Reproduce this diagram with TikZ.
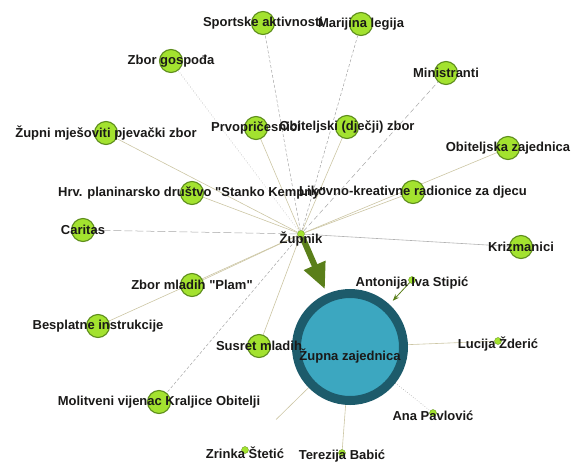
\documentclass[tikz,border=0pt]{standalone}
\usepackage{fontspec}
\setmainfont{Liberation Sans}
\usepackage{xcolor}
\definecolor{limeg}{HTML}{A3E22F}
\definecolor{limerub}{HTML}{5E8E1C}
\definecolor{zupolive}{HTML}{5A7F1A}
\definecolor{ringc}{HTML}{1D5B6B}
\definecolor{tealc}{HTML}{3CA7C0}
\definecolor{tanc}{HTML}{CCC6A4}
\definecolor{ink}{HTML}{1A1918}
\usetikzlibrary{arrows.meta,backgrounds}

\begin{document}
\begin{tikzpicture}[
		x=1pt,
		y=-1pt,
		>=Stealth,
		grupa/.style={circle, draw=limerub, fill=limeg, line width=1.1pt, minimum size=23pt, inner sep=0pt},
		osoba/.style={circle, draw=limerub, fill=limeg, line width=0.3pt, minimum size=7pt, inner sep=0pt},
		natpis/.style={font=\bfseries\fontsize{13}{13}\selectfont, text=ink, inner sep=0pt},
		veza/.style={draw=tanc, line width=0.6pt},
		crtkano/.style={draw=black!35, dash pattern=on 3pt off 2pt, line width=0.5pt},
		tockasto/.style={draw=black!45, dotted, line width=0.5pt}
	]
		\useasboundingbox (0,0) rectangle (573,461);

		% group nodes: name / x / y / text
		\def\grupe{sport/263/23/{Sportske aktivnosti},
			marija/361/24/{Marijina legija},
			gospoda/171/61/{Zbor gospođa},
			minist/446/73/{Ministranti},
			pjev/106/133/{Župni mješoviti pjevački zbor},
			prvo/256/128/{Prvopričesnici},
			obzbor/347/127/{Obiteljski (dječji) zbor},
			obzaj/508/148/{Obiteljska zajednica},
			hpd/192/193/{Hrv. planinarsko društvo \textquotedbl Stanko Kempny\textquotedbl},
			likovno/413/192/{Likovno-kreativne radionice za djecu},
			caritas/83/230/{Caritas},
			krizm/521/247/{Krizmanici},
			plam/192/285/{Zbor mladih \textquotedbl Plam\textquotedbl},
			instr/98/326/{Besplatne instrukcije},
			susret/259/346/{Susret mladih},
			molit/159/402/{Molitveni vijenac Kraljice Obitelji}}

		% person nodes
		\def\osobe{antonija/412/280/{Antonija Iva Stipić},
			lucija/498/341/{Lucija Žderić},
			ana/433/413/{Ana Pavlović},
			terezija/342/453/{Terezija Babić},
			zrinka/245/450/{Zrinka Štetić}}

		\node[circle, fill=tealc, draw=ringc, line width=9pt, minimum size=107pt, inner sep=0pt] (zupna) at (350,347) {};
		\node[osoba] (zupnik) at (301,234) {};
		\foreach \n/\x/\y/\t in \grupe {\node[grupa] (\n) at (\x,\y) {};}
		\foreach \n/\x/\y/\t in \osobe {\node[osoba] (\n) at (\x,\y) {};}

		% ties from the priest
		\begin{scope}[on background layer]
			\draw[crtkano] (zupnik) -- (sport);
			\draw[crtkano] (zupnik) -- (marija);
			\draw[tockasto] (zupnik) -- (gospoda);
			\draw[crtkano, dash pattern=on 5pt off 3pt] (zupnik) -- (minist);
			\draw[veza] (zupnik) -- (pjev);
			\draw[veza] (zupnik) -- (prvo);
			\draw[veza] (zupnik) -- (obzbor);
			\draw[veza] (zupnik) -- (obzaj);
			\draw[veza] (zupnik) -- (hpd);
			\draw[veza] (zupnik) -- (likovno);
			\draw[crtkano, dash pattern=on 8pt off 3pt] (zupnik) -- (caritas);
			\draw[veza, draw=black!30] (zupnik) -- (krizm);
			\draw[veza] (zupnik) -- (plam);
			\draw[veza] (zupnik) -- (instr);
			\draw[veza] (zupnik) -- (susret);
			\draw[crtkano] (zupnik) -- (molit);

			% ties of the parishioners
			\draw[veza] (zupna) -- (lucija);
			\draw[tockasto] (zupna) -- (ana);
			\draw[veza] (zupna) -- (terezija);
			\draw[veza, shorten >=40pt] (zupna) -- (zrinka);
		\end{scope}

		\draw[zupolive, line width=6pt, -{Triangle[length=26pt,width=22pt]}, shorten >=5pt] (zupnik) -- (zupna);
		\draw[->, zupolive, line width=0.8pt, shorten >=5pt] (antonija) -- (zupna);

		% labels on top of everything
		\foreach \n/\x/\y/\t in \grupe {\node[natpis] (\n-t) at (\n) {\t};}
		\foreach \n/\x/\y/\t in \osobe {\node[natpis, yshift=-3pt] (\n-t) at (\n) {\t};}
		\node[natpis, yshift=-5pt] (zupnik-t) at (zupnik) {Župnik};
		\node[natpis, yshift=-9pt] (zupna-t) at (zupna) {Župna zajednica};
\end{tikzpicture}
\end{document}
